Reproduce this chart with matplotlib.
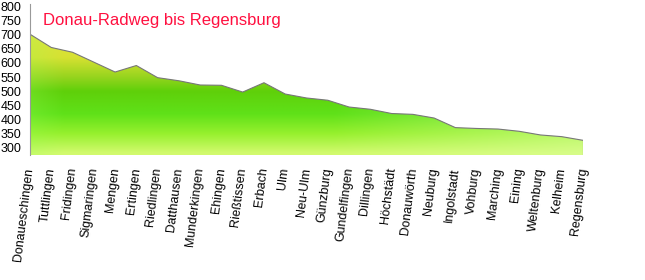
import numpy as np
import matplotlib.pyplot as plt
from matplotlib.patches import Polygon

orte = ['Donaueschingen', 'Tuttlingen', 'Fridingen', 'Sigmaringen', 'Mengen', 'Ertingen',
        'Riedlingen', 'Datthausen', 'Munderkingen', 'Ehingen', 'Rießtissen', 'Erbach',
        'Ulm', 'Neu-Ulm', 'Günzburg', 'Gundelfingen', 'Dillingen', 'Höchstädt',
        'Donauwörth', 'Neuburg', 'Ingolstadt', 'Vohburg', 'Marching', 'Eining',
        'Weltenburg', 'Kelheim', 'Regensburg']
hoehe = [702, 655, 638, 603, 568, 591, 548, 537, 522, 521, 497, 530,
         490, 476, 468, 444, 436, 421, 418, 405, 371, 368, 366, 358,
         345, 339, 326]
y_ticks = [300, 350, 400, 450, 500, 550, 600, 650, 700, 750, 800]

plt.rcParams['font.family'] = ['Liberation Sans', 'DejaVu Sans']

fig = plt.figure(figsize=(6.45, 2.8), dpi=100)
ax = fig.add_axes([30 / 645, 1 - 155 / 280, 553 / 645, 151 / 280])
x = np.arange(len(orte))
y0, y1 = 274, 809
ax.set_xlim(0, len(orte) - 1)
ax.set_ylim(y0, y1)

# farbverlauf (hoehe -> farbe), rechts heller
stufen = [280, 350, 420, 500, 550, 620, 720]
r = [210, 150, 95, 95, 150, 215, 225]
g = [250, 240, 225, 208, 212, 225, 228]
b = [110, 45, 25, 10, 30, 50, 60]
gy = np.linspace(y0, y1, 300)
gx = np.linspace(0, 1, 400)
col = np.stack([np.interp(gy, stufen, c) for c in (r, g, b)], axis=-1) / 255
img = np.repeat(col[:, None, :], len(gx), axis=1)
hell = np.clip((gx - 0.55) / 0.45, 0, 1)[None, :, None] * 0.55
img = img * (1 - hell) + np.array([0.86, 1.0, 0.62]) * hell
links = np.clip(1 - gx / 0.06, 0, 1)[None, :, None] * 0.25
img = img * (1 - links) + np.array([0.6, 1.0, 0.35]) * links

poly = Polygon(np.column_stack([np.r_[x, x[-1], 0], np.r_[hoehe, y0, y0]]),
               closed=True, facecolor='none', edgecolor='none')
ax.add_patch(poly)
im = ax.imshow(img, extent=[0, len(orte) - 1, y0, y1], origin='lower',
               aspect='auto', interpolation='bilinear')
im.set_clip_path(poly)
ax.plot(x, hoehe, color='#777777', lw=0.8)
ax.plot([x[-1], x[-1]], [y0, hoehe[-1]], color='#777777', lw=0.8)

ax.set_yticks(y_ticks)
ax.set_yticklabels([str(v) for v in y_ticks], fontsize=9)
ax.tick_params(axis='y', length=0, pad=6)
ax.set_xticks(x)
ax.set_xticklabels(orte, rotation=83, ha='right', va='center',
                   rotation_mode='anchor', fontsize=9)
ax.tick_params(axis='x', length=0, pad=9)
for s in ['top', 'right', 'bottom']:
    ax.spines[s].set_visible(False)
ax.spines['left'].set_color('#999999')
ax.spines['left'].set_linewidth(0.8)

fig.text(43 / 645, 1 - 20 / 280, 'Donau-Radweg bis Regensburg', color='#ff1040',
         fontsize=12, va='center', ha='left')

fig.savefig('out.png', dpi=100)
